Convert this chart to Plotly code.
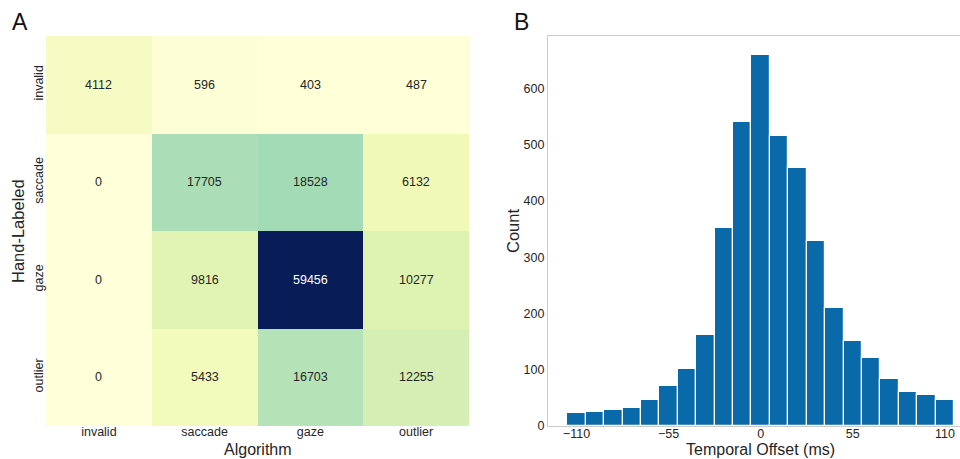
import plotly.graph_objects as go

# ---- Data ----
algo_labels = ["invalid", "saccade", "gaze", "outlier"]
hand_labels = ["invalid", "saccade", "gaze", "outlier"]
confusion = [
    [4112, 596, 403, 487],
    [0, 17705, 18528, 6132],
    [0, 9816, 59456, 10277],
    [0, 5433, 16703, 12255],
]
offset_centers = [-110, -99, -88, -77, -66, -55, -44, -33, -22, -11, 0,
                  11, 22, 33, 44, 55, 66, 77, 88, 99, 110]
offset_counts = [23, 25, 28, 32, 47, 71, 102, 162, 351, 540, 659,
                 516, 458, 329, 209, 151, 120, 83, 60, 55, 46]
hist_ticks = [-110, -55, 0, 55, 110]

FONT = "Liberation Sans, Arial, sans-serif"
TXT = "#262626"

ylgnbu = [
    [0.0, "#ffffd9"], [0.125, "#edf8b1"], [0.25, "#c7e9b4"], [0.375, "#7fcdbb"],
    [0.5, "#41b6c4"], [0.625, "#1d91c0"], [0.75, "#225ea8"], [0.875, "#253494"],
    [1.0, "#081d58"],
]

W, H = 960, 459

fig = go.Figure()

zmax = max(max(r) for r in confusion)
fig.add_trace(go.Heatmap(
    z=confusion, x=algo_labels, y=hand_labels,
    colorscale=ylgnbu, zmin=0, zmax=zmax, showscale=False,
    xgap=0, ygap=0, hoverinfo="skip",
    xaxis="x", yaxis="y",
))

annotations = []
for i, row in enumerate(confusion):
    for j, v in enumerate(row):
        annotations.append(dict(
            x=algo_labels[j], y=hand_labels[i], xref="x", yref="y",
            text=str(v), showarrow=False,
            font=dict(family=FONT, size=12.5,
                      color="white" if v > 0.6 * zmax else TXT),
        ))

fig.add_trace(go.Bar(
    x=offset_centers, y=offset_counts, width=11,
    marker=dict(color="#0a6aa9", line=dict(color="white", width=1.2)),
    xaxis="x2", yaxis="y2", hoverinfo="skip", showlegend=False,
))


def paper_text(text, px, py, size, angle=0, color="#111111", xanchor="center"):
    return dict(text=text, x=px / W, y=1 - py / H, xref="paper", yref="paper",
                showarrow=False, xanchor=xanchor, yanchor="middle",
                textangle=angle, font=dict(family=FONT, size=size, color=color))


annotations += [
    paper_text("A", 10, 22, 23, xanchor="left"),
    paper_text("B", 512, 22, 23, xanchor="left"),
    paper_text("Algorithm", 258, 449.8, 16, color=TXT),
    paper_text("Temporal Offset (ms)", 760, 449.8, 16, color=TXT),
    paper_text("Hand-Labeled", 18, 231, 16.5, angle=-90, color=TXT),
    paper_text("Count", 513, 231, 16.5, angle=-90, color=TXT),
]

y0 = (H - 426) / H
y1 = (H - 36) / H

tick_font = dict(size=12.5, color=TXT)

fig.update_layout(
    width=W, height=H,
    margin=dict(l=0, r=0, t=0, b=0),
    paper_bgcolor="white", plot_bgcolor="white",
    font=dict(family=FONT, color=TXT),
    showlegend=False,
    annotations=annotations,
    bargap=0,
    xaxis=dict(
        domain=[46 / W, 469 / W], anchor="y", automargin=False,
        tickfont=tick_font, ticks="", showgrid=False, ticklabelstandoff=-4,
        zeroline=False, showline=False,
    ),
    yaxis=dict(
        domain=[y0, y1], anchor="x", autorange="reversed", automargin=False,
        tickfont=tick_font, tickangle=-90, ticks="",
        showgrid=False, zeroline=False, showline=False,
    ),
    xaxis2=dict(
        domain=[548 / W, 1.0], anchor="y2", automargin=False,
        range=[-127, 119], tickvals=hist_ticks,
        ticktext=[("\u2212" + str(-t)) if t < 0 else str(t) for t in hist_ticks],
        tickfont=tick_font, ticks="", showgrid=False, ticklabelstandoff=-4,
        zeroline=False, showline=True, linecolor="#cccccc", linewidth=1.2,
        mirror=True,
    ),
    yaxis2=dict(
        domain=[y0, y1], anchor="x2", automargin=False,
        range=[0, 693], tickvals=[0, 100, 200, 300, 400, 500, 600],
        tickfont=tick_font, ticks="", showgrid=False,
        zeroline=False, showline=True, linecolor="#cccccc", linewidth=1.2,
    ),
)

fig.write_html(
    "out.html",
    config={"displayModeBar": False},
    post_script="document.body.style.margin='0';document.body.style.overflow='hidden';",
)
